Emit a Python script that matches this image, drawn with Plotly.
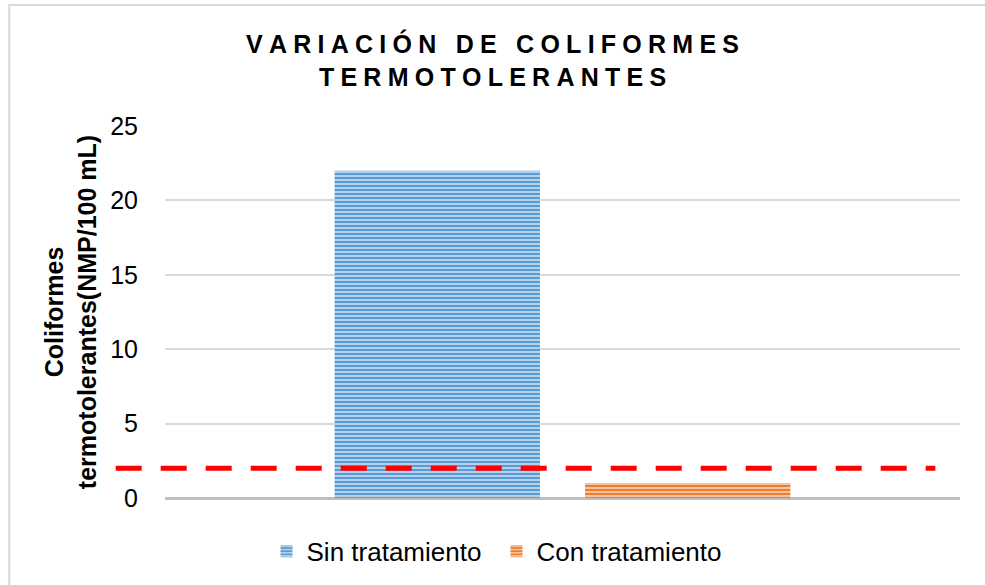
import plotly.graph_objects as go

# data
category = [""]
series_names = ["Sin tratamiento", "Con tratamiento"]
series_values = [22, 1]
limit_value = 2
y_ticks = [0, 5, 10, 15, 20, 25]

bar_styles = [
    dict(bgcolor="#5B9BD5", fgcolor="#BDD7EE"),
    dict(bgcolor="#ED7D31", fgcolor="#F8CBAD"),
]

GAP = "\u2005"


def spaced(text):
    # no letter-spacing in plotly fonts, so pad the letters by hand
    words = [GAP.join(w) for w in text.split(" ")]
    return (GAP + "\u00a0" + GAP).join(words)


fig = go.Figure()
for name, value, style in zip(series_names, series_values, bar_styles):
    fig.add_trace(go.Bar(
        x=category,
        y=[value],
        name=name,
        marker=dict(
            color=style["bgcolor"],
            line_width=0,
            pattern=dict(shape="-", size=4, solidity=0.45,
                         fgcolor=style["fgcolor"], bgcolor=style["bgcolor"],
                         fillmode="replace"),
        ),
    ))

# limit line, runs a little past the left edge of the plot like the original
fig.add_shape(type="line", xref="paper", yref="y",
              x0=-0.062, x1=0.969, y0=limit_value, y1=limit_value,
              line=dict(color="#FF0000", width=5, dash="26px,19px"))

# outer chart frame
fig.add_shape(type="rect", xref="paper", yref="paper",
              x0=-0.196, x1=1.08, y0=-0.35, y1=1.325,
              line=dict(color="#D9D9D9", width=2), layer="below")

title_lines = [spaced("VARIACIÓN DE COLIFORMES"), spaced("TERMOTOLERANTES")]

fig.update_layout(
    width=985,
    height=585,
    template="plotly_white",
    paper_bgcolor="white",
    plot_bgcolor="white",
    font=dict(family="Liberation Sans, Arial, sans-serif", color="#000000"),
    margin=dict(l=165, r=25, t=126, b=87, autoexpand=False),
    barmode="group",
    bargap=0.37,
    bargroupgap=0.18,
    title=dict(
        text="<br>".join(title_lines),
        x=0.5, xref="container", xanchor="center",
        y=1 - 53 / 585, yref="container", yanchor="middle",
        font=dict(size=25, weight="bold", color="#000000"),
    ),
    legend=dict(
        orientation="h",
        x=0.417, xanchor="center",
        y=-0.08, yanchor="top",
        font=dict(size=26, color="#000000"),
        entrywidth=185,
        traceorder="normal",
    ),
    showlegend=True,
)

fig.update_xaxes(showticklabels=False, showgrid=False, zeroline=False,
                 showline=False, fixedrange=True)
fig.update_yaxes(
    range=[0, 25],
    tickvals=y_ticks,
    tickfont=dict(size=25, color="#000000"),
    ticks="outside", ticklen=21, tickcolor="rgba(0,0,0,0)",
    showgrid=True, gridcolor="#D9D9D9", gridwidth=2,
    zeroline=True, zerolinecolor="#BFBFBF", zerolinewidth=3,
    showline=False,
    title=dict(text="Coliformes<br>termotolerantes(NMP/100 mL)",
               font=dict(size=25, weight="bold", color="#000000"),
               standoff=6),
    fixedrange=True,
)

fig.write_html("out.html", config={"displayModeBar": False},
               post_script="document.body.style.margin='0';")
